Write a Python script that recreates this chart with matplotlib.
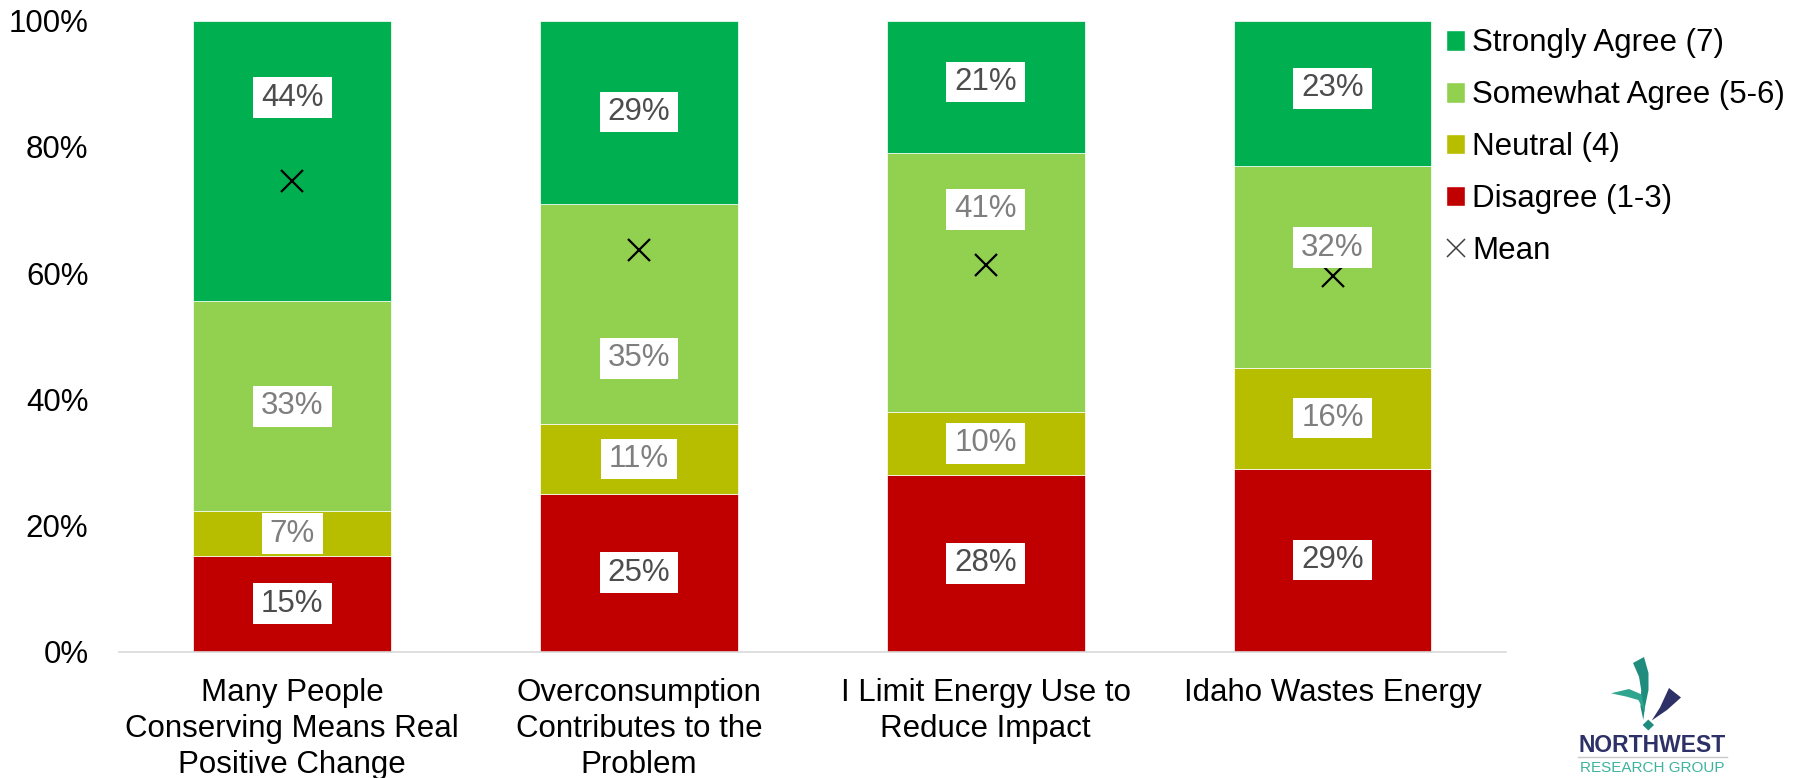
import numpy as np
import matplotlib.pyplot as plt
from matplotlib.path import Path
from matplotlib.patches import Patch, Polygon
from matplotlib.lines import Line2D
from matplotlib.ticker import FuncFormatter

plt.rcParams['font.family'] = ['Liberation Sans', 'DejaVu Sans']

categories = ["Many People\nConserving Means Real\nPositive Change",
              "Overconsumption\nContributes to the\nProblem",
              "I Limit Energy Use to\nReduce Impact",
              "Idaho Wastes Energy"]

disagree = [15, 25, 28, 29]
neutral = [7, 11, 10, 16]
somewhat = [33, 35, 41, 32]
strongly = [44, 29, 21, 23]
mean_score = [5.22, 4.46, 4.29, 4.17]   # 1-7 agreement scale

# name, values, fill, label text colour (bottom to top)
series = [("Disagree (1-3)", disagree, "#C00000", "#4D4D4D"),
          ("Neutral (4)", neutral, "#B7BE00", "#7F7F7F"),
          ("Somewhat Agree (5-6)", somewhat, "#92D050", "#7F7F7F"),
          ("Strongly Agree (7)", strongly, "#00B050", "#4D4D4D")]

# some labels are moved so they don't sit on the mean marker
label_nudge = {("Strongly Agree (7)", 0): 10.0,
               ("Strongly Agree (7)", 2): 0.8,
               ("Strongly Agree (7)", 3): 0.8,
               ("Somewhat Agree (5-6)", 1): -7.0,
               ("Somewhat Agree (5-6)", 2): 11.6,
               ("Somewhat Agree (5-6)", 3): 3.0}

FS = 22.5


def label_box(x0, y0, width, height, mutation_size):
    # white box, wider padding left/right than top/bottom
    px = 0.26 * mutation_size
    py = 0.17 * mutation_size
    x0, y0 = x0 - px, y0 - py
    x1, y1 = x0 + width + 2 * px, y0 + height + 2 * py
    return Path([(x0, y0), (x1, y0), (x1, y1), (x0, y1), (x0, y0)], closed=True)


fig = plt.figure(figsize=(18.05, 7.78), dpi=100)
ax = fig.add_axes([0.0659, 0.1625, 0.7684, 0.8109])

x = np.arange(len(categories))
totals = np.sum([s[1] for s in series], axis=0)
bottom = np.zeros(len(categories))

for name, vals, color, tcolor in series:
    share = np.array(vals) / totals * 100
    ax.bar(x, share, 0.57, bottom=bottom, color=color,
           edgecolor="white", linewidth=0.5, zorder=2)
    for i, v in enumerate(vals):
        y = bottom[i] + share[i] / 2 + label_nudge.get((name, i), 0)
        ax.text(x[i], y, f"{v}%", ha="center", va="center", fontsize=FS,
                color=tcolor, zorder=5,
                bbox=dict(boxstyle=label_box, fc="white", ec="none"))
    bottom += share

# mean on the 0-7 scale, drawn against the same height
ax.plot(x, np.array(mean_score) / 7 * 100, linestyle="none", marker="x",
        markersize=16, markeredgewidth=1.6, color="black", zorder=4)

ax.set_xlim(-0.5, len(categories) - 0.5)
ax.set_ylim(0, 100)
ax.set_yticks(np.arange(0, 101, 20))
ax.yaxis.set_major_formatter(FuncFormatter(lambda v, p: f"{v:.0f}%"))
ax.set_xticks(x)
ax.set_xticklabels(categories, fontsize=FS, linespacing=1.27)
ax.tick_params(axis="y", length=0, pad=22, labelsize=FS)
ax.tick_params(axis="x", length=0, pad=19)
for side in ["left", "right", "top"]:
    ax.spines[side].set_visible(False)
ax.spines["bottom"].set_color("#D9D9D9")
ax.spines["bottom"].set_linewidth(1.2)

handles = [Patch(facecolor=c, edgecolor="white", label=n)
           for n, v, c, t in series[::-1]]
handles.append(Line2D([], [], linestyle="none", marker="x", markersize=13.5,
                      markeredgewidth=1.1, color="#404040", label="Mean"))
fig.legend(handles=handles, loc="upper left",
           bbox_to_anchor=(1446 / 1805, 1 - 28.5 / 778), frameon=False,
           fontsize=FS, handlelength=0.62, handleheight=0.62,
           handletextpad=0.22, labelspacing=0.7, borderpad=0,
           borderaxespad=0)

# company logo, bottom right
lg = fig.add_axes([1570 / 1805, 0, 170 / 1805, 130 / 778])
lg.set_xlim(0, 170)
lg.set_ylim(130, 0)
lg.axis("off")
teal = "#1F8C7E"
navy = "#2E3168"
lg.add_patch(Polygon([(63, 15), (74, 9), (78.5, 25), (78.5, 42), (75, 58.7),
                      (73.3, 72), (70.5, 58.7), (71.2, 42), (69, 28.7)],
                     closed=True, fc=teal, ec="none"))
lg.add_patch(Polygon([(41, 45.3), (59, 41), (71.7, 46.5), (75, 64),
                      (68.3, 52), (56, 48.5)], closed=True, fc="#2FA58F",
                     ec="none"))
lg.add_patch(Polygon([(99, 40), (111, 49.5), (97, 62), (81.7, 72.5),
                      (90, 59.5)], closed=True, fc=navy, ec="none"))
lg.add_patch(Polygon([(78.3, 71.5), (84, 77), (78.3, 82.5), (72.6, 77)],
                     closed=True, fc=teal, ec="none"))
lg.text(82, 98, "NORTHWEST", ha="center", va="center", fontsize=16.5,
        fontweight="bold", color=navy)
lg.plot([8, 157], [109, 109], color="#C8C8C8", lw=1)
lg.text(82, 120, "RESEARCH GROUP", ha="center", va="center", fontsize=11,
        color="#3DB39E")

fig.savefig("out.png", dpi=100)
